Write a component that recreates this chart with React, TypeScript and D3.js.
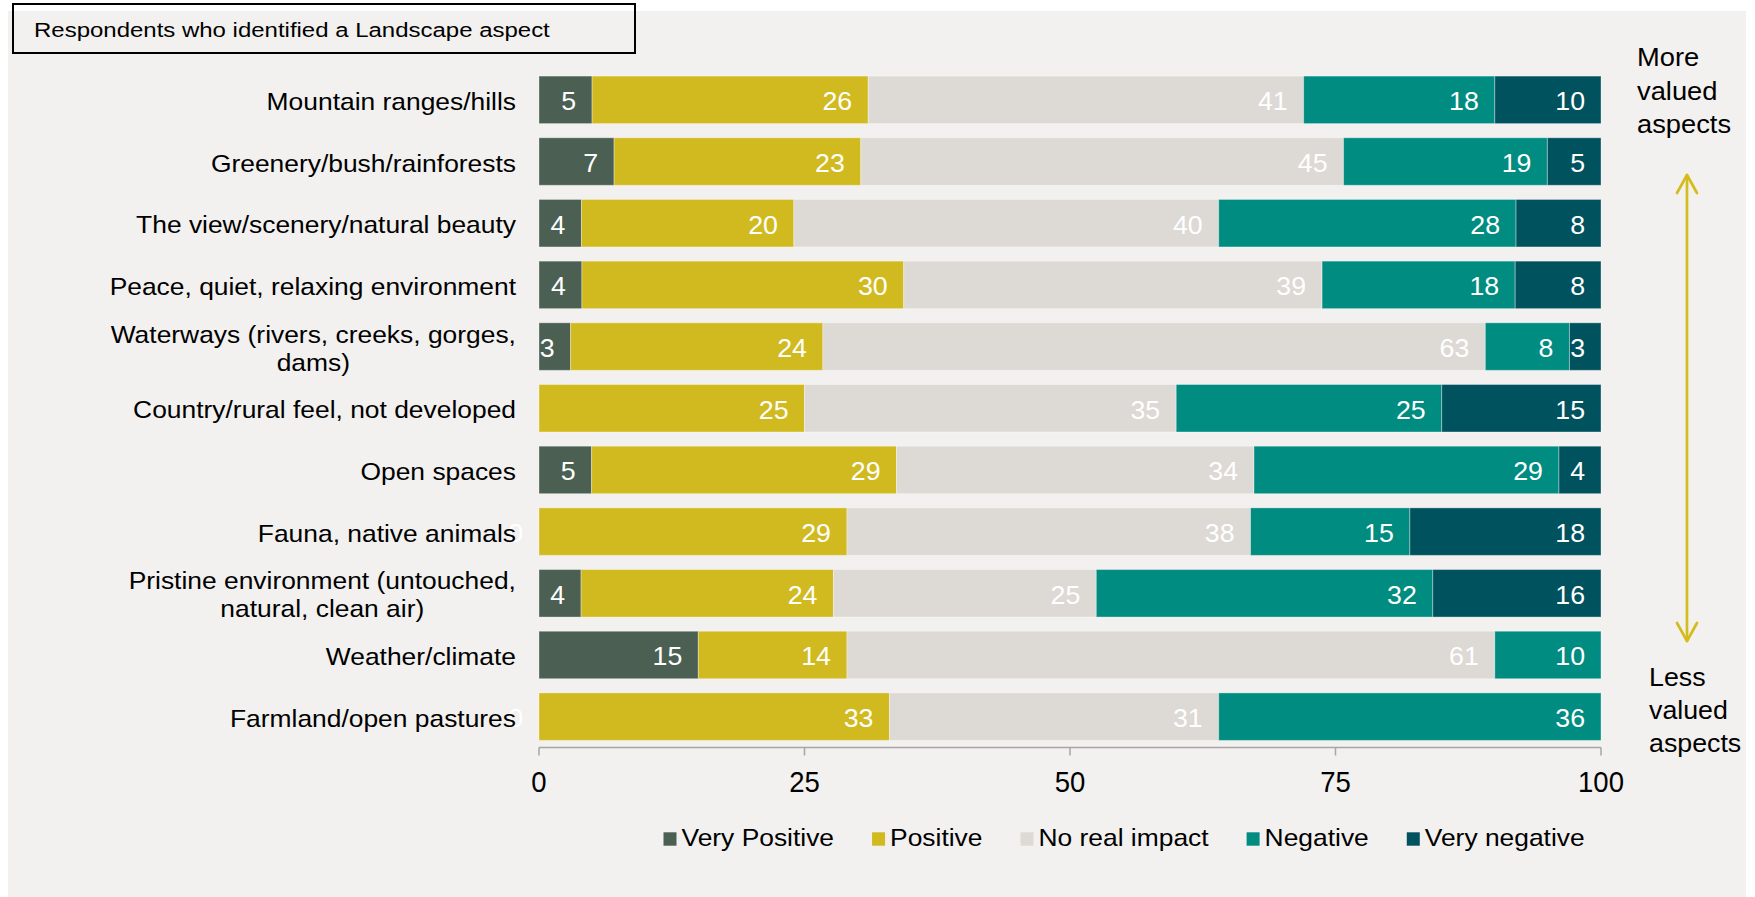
import React, { useEffect, useRef } from 'react';
import * as d3 from 'd3';

const categories = [
  'Mountain ranges/hills',
  'Greenery/bush/rainforests',
  'The view/scenery/natural beauty',
  'Peace, quiet, relaxing environment',
  'Waterways (rivers, creeks, gorges, dams)',
  'Country/rural feel, not developed',
  'Open spaces',
  'Fauna, native animals',
  'Pristine environment (untouched, natural, clean air)',
  'Weather/climate',
  'Farmland/open pastures',
];
const seriesNames = ['Very Positive', 'Positive', 'No real impact', 'Negative', 'Very negative'];
const veryPositive: (number | null)[] = [5, 7, 4, 4, 3, null, 5, 0, 4, 15, 0];
const positive: (number | null)[] = [26, 23, 20, 30, 24, 25, 29, 29, 24, 14, 33];
const noImpact: (number | null)[] = [41, 45, 40, 39, 63, 35, 34, 38, 25, 61, 31];
const negative: (number | null)[] = [18, 19, 28, 18, 8, 25, 29, 15, 32, 10, 36];
const veryNegative: (number | null)[] = [10, 5, 8, 8, 3, 15, 4, 18, 16, null, null];
const tickValues = [0, 25, 50, 75, 100];
const titleText = 'Respondents who identified a Landscape aspect';
const topNote = ['More', 'valued', 'aspects'];
const bottomNote = ['Less', 'valued', 'aspects'];

const colors = ['#4B5F53', '#D1BA1F', '#DDD9D5', '#008C80', '#00525E'];

export default function App() {
  const ref = useRef<SVGSVGElement>(null);
  useEffect(() => {
    const svgEl = ref.current;
    if (!svgEl) return;
    const svg = d3.select(svgEl);
    svg.selectAll('*').remove();
    const W = 1755, H = 897;
    const FONT = "'Liberation Sans', Arial, Helvetica, sans-serif";

    const addText = (parent: any, x: number, y: number, str: string, size: number, sx: number, anchor = 'start', fill = '#000') => {
      const g = parent.append('g').attr('transform', `translate(${x},${y}) scale(${sx},1)`);
      const t = g.append('text')
        .attr('x', 0).attr('y', 0)
        .attr('font-family', FONT)
        .attr('font-size', size)
        .attr('fill', fill)
        .attr('text-anchor', anchor)
        .text(str);
      return { g, t };
    };

    svg.append('rect').attr('x', 0).attr('y', 0).attr('width', W).attr('height', H).attr('fill', '#ffffff');
    svg.append('rect').attr('x', 8).attr('y', 11).attr('width', 1738).attr('height', H - 11).attr('fill', '#F2F1EF');

    const seriesValues = [veryPositive, positive, noImpact, negative, veryNegative];
    const rows = categories.map((c, i) => {
      const r: any = { category: c };
      seriesNames.forEach((s, k) => { r[s] = seriesValues[k][i] ?? 0; });
      return r;
    });
    const stacked = d3.stack<any>().keys(seriesNames).offset(d3.stackOffsetExpand)(rows);

    const x = d3.scaleLinear().domain([0, 1]).range([539, 1601]);
    const y = d3.scaleBand<string>().domain(categories).range([69, 747.5]).paddingInner(0.23).paddingOuter(0.115);

    // bars
    const barG = svg.append('g');
    stacked.forEach((layer, k) => {
      barG.append('g').selectAll('rect').data(layer).join('rect')
        .attr('x', (d: any) => x(d[0]))
        .attr('y', (d: any) => y(d.data.category)!)
        .attr('width', (d: any) => Math.max(0, x(d[1]) - x(d[0])))
        .attr('height', y.bandwidth())
        .attr('fill', colors[k])
        .attr('stroke', 'rgba(255,255,255,0.35)')
        .attr('stroke-width', 1);
    });

    // value labels
    const valG = svg.append('g');
    stacked.forEach((layer, k) => {
      layer.forEach((d: any, i: number) => {
        const v = seriesValues[k][i];
        if (v === null || v === undefined) return;
        const cy = y(d.data.category)! + y.bandwidth() / 2;
        addText(valG, x(d[1]) - 16, cy + 10.5, String(v), 25, 1.07, 'end', '#ffffff');
      });
    });

    // category labels (wrapped, centered block, right-aligned at 516)
    const catG = svg.append('g');
    const catSize = 24, catSx = 1.1, maxW = 430;
    const measurer = catG.append('text').attr('font-family', FONT).attr('font-size', catSize).attr('visibility', 'hidden');
    const measure = (s: string) => { measurer.text(s); return (measurer.node() as SVGTextElement).getComputedTextLength() * catSx; };
    categories.forEach((c) => {
      const words = c.split(' ');
      const lines: string[] = [];
      let cur = '';
      words.forEach((w) => {
        const test = cur ? cur + ' ' + w : w;
        if (cur && measure(test) > maxW) { lines.push(cur); cur = w; } else { cur = test; }
      });
      if (cur) lines.push(cur);
      const cy = y(c)! + y.bandwidth() / 2;
      if (lines.length === 1) {
        addText(catG, 516, cy + 10, lines[0], catSize, catSx, 'end');
      } else {
        const bw = Math.max(...lines.map(measure));
        const cx = 516 - bw / 2;
        const lh = 28;
        lines.forEach((ln, j) => {
          const ly = cy + 10 + (j - (lines.length - 1) / 2) * lh;
          addText(catG, cx, ly, ln, catSize, catSx, 'middle');
        });
      }
    });
    measurer.remove();

    // axis
    const axisG = svg.append('g');
    const axisY = 747.5;
    axisG.append('line').attr('x1', x(0)).attr('x2', x(1)).attr('y1', axisY).attr('y2', axisY)
      .attr('stroke', '#A6A6A6').attr('stroke-width', 1.5);
    tickValues.forEach((t) => {
      const tx = x(t / 100);
      axisG.append('line').attr('x1', tx).attr('x2', tx).attr('y1', axisY).attr('y2', axisY + 8)
        .attr('stroke', '#A6A6A6').attr('stroke-width', 1.5);
      addText(axisG, tx, 791.5, String(t), 29, 0.95, 'middle', '#000');
    });

    // legend
    const legG = svg.append('g');
    let lx = 663.5;
    const legSize = 24, legSx = 1.1;
    seriesNames.forEach((s, k) => {
      legG.append('rect').attr('x', lx).attr('y', 832.3).attr('width', 13).attr('height', 13.4).attr('fill', colors[k]);
      const { t } = addText(legG, lx + 18, 846, s, legSize, legSx, 'start');
      const w = (t.node() as SVGTextElement).getComputedTextLength() * legSx;
      lx = lx + 18 + w + 38;
    });

    // title box
    svg.append('rect').attr('x', 13).attr('y', 4).attr('width', 622).attr('height', 49)
      .attr('fill', 'none').attr('stroke', '#000').attr('stroke-width', 2);
    const { g: tg, t: tt } = addText(svg, 34, 37, titleText, 21, 1, 'start');
    const tl = (tt.node() as SVGTextElement).getComputedTextLength();
    tg.attr('transform', `translate(34,37) scale(${516 / tl},1)`);

    // side notes
    topNote.forEach((s, i) => addText(svg, 1637, 66 + i * 33.5, s, 26, 1.05, 'start'));
    bottomNote.forEach((s, i) => addText(svg, 1649, 686 + i * 33, s, 26, 1.03, 'start'));

    // arrow
    const arrowColor = '#D4BC1C';
    const ax = 1687, aTop = 175, aBot = 641;
    const arr = svg.append('g').attr('stroke', arrowColor).attr('stroke-width', 2.7).attr('fill', 'none')
      .attr('stroke-linecap', 'round').attr('stroke-linejoin', 'round');
    arr.append('line').attr('x1', ax).attr('x2', ax).attr('y1', aTop).attr('y2', aBot);
    const lineGen = d3.line();
    arr.append('path').attr('d', lineGen([[ax - 10, aTop + 18], [ax, aTop], [ax + 10, aTop + 18]]));
    arr.append('path').attr('d', lineGen([[ax - 10, aBot - 18], [ax, aBot], [ax + 10, aBot - 18]]));
  }, []);
  return (
    <svg ref={ref} width={1755} height={897}
      style={{ position: 'absolute', left: 0, top: 0, display: 'block' }} />
  );
}
